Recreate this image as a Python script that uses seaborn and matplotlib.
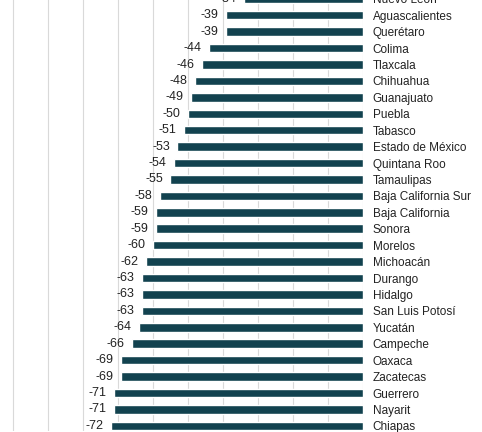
import matplotlib
matplotlib.use('Agg')
import matplotlib.pyplot as plt
import pandas as pd
import seaborn as sns

estados = ['Nuevo León', 'Aguascalientes', 'Querétaro', 'Colima', 'Tlaxcala',
           'Chihuahua', 'Guanajuato', 'Puebla', 'Tabasco', 'Estado de México',
           'Quintana Roo', 'Tamaulipas', 'Baja California Sur', 'Baja California',
           'Sonora', 'Morelos', 'Michoacán', 'Durango', 'Hidalgo',
           'San Luis Potosí', 'Yucatán', 'Campeche', 'Oaxaca', 'Zacatecas',
           'Guerrero', 'Nayarit', 'Chiapas']
valores = [-34, -39, -39, -44, -46, -48, -49, -50, -51, -53, -54, -55, -58, -59,
           -59, -60, -62, -63, -63, -63, -64, -66, -69, -69, -71, -71, -72]

df = pd.DataFrame({'estado': estados, 'valor': valores})

sns.set_style('white')
plt.rcParams['font.family'] = ['Liberation Sans', 'DejaVu Sans']

fig = plt.figure(figsize=(4.82, 4.32), dpi=100)
# axes run past the figure edges (the chart is cropped top and bottom)
ax = fig.add_axes([0, 1.2 / 432, 363 / 482, 1])

sns.barplot(data=df, x='valor', y='estado', orient='h', color='#12424f',
            width=0.52, saturation=1, ax=ax)

ax.set_xlim(-103.7, 0)
ax.set_ylim(26.3, 0.0)
ax.set_xticks(range(-100, 1, 10))
ax.xaxis.grid(True, color='#d9d9d9', linewidth=0.8)
ax.set_axisbelow(True)
ax.tick_params(axis='x', bottom=False, labelbottom=False)
for s in ax.spines.values():
    s.set_visible(False)

ax.yaxis.tick_right()
ax.tick_params(axis='y', right=False, length=0, pad=7, labelsize=8.5,
               labelcolor='#222222')
ax.set_xlabel('')
ax.set_ylabel('')

ax.bar_label(ax.containers[0], fmt='%d', padding=5.5, fontsize=9,
             color='#222222', annotation_clip=False)

fig.savefig('out.png', dpi=100)
